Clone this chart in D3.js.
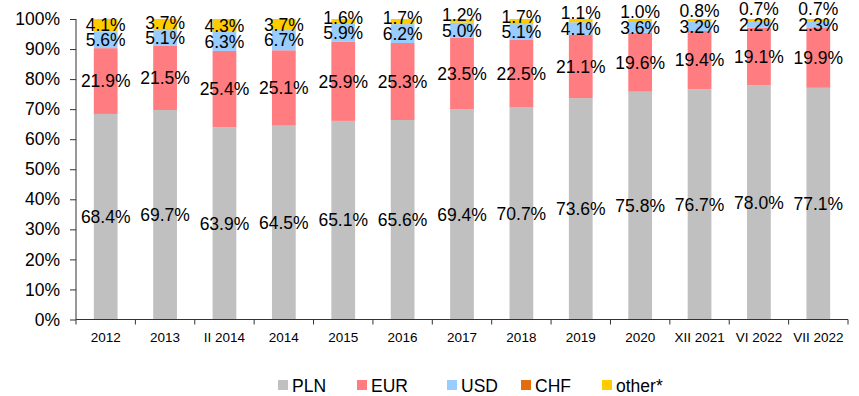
<!DOCTYPE html>
<html>
<head>
<meta charset="utf-8">
<script src="https://cdn.jsdelivr.net/npm/d3@7"></script>
<style>
  body { margin: 0; background: #fff; }
  text { font-family: "Liberation Sans", Arial, sans-serif; fill: #000; }
</style>
</head>
<body>
<svg id="chart" width="859" height="396"></svg>
<script>
// Currency structure of deposits, share of total (%)
const categories = ["2012", "2013", "II 2014", "2014", "2015", "2016", "2017", "2018", "2019", "2020", "XII 2021", "VI 2022", "VII 2022"];
const pln   = [68.4, 69.7, 63.9, 64.5, 65.1, 65.6, 69.4, 70.7, 73.6, 75.8, 76.7, 78.0, 77.1];
const eur   = [21.9, 21.5, 25.4, 25.1, 25.9, 25.3, 23.5, 22.5, 21.1, 19.6, 19.4, 19.1, 19.9];
const usd   = [5.6, 5.1, 6.3, 6.7, 5.9, 6.2, 5.0, 5.1, 4.1, 3.6, 3.2, 2.2, 2.3];
const chf   = [0, 0, 0, 0, 0, 0, 0, 0, 0, 0, 0, 0, 0];
const other = [4.1, 3.7, 4.3, 3.7, 1.6, 1.7, 1.2, 1.7, 1.1, 1.0, 0.8, 0.7, 0.7];
const seriesNames = ["PLN", "EUR", "USD", "CHF", "other*"];
const yTicks = [0, 10, 20, 30, 40, 50, 60, 70, 80, 90, 100];

const colors = {
  "PLN": "#C0C0C0",
  "EUR": "#FF7C80",
  "USD": "#99CCFF",
  "CHF": "#E46C0A",
  "other*": "#FFCC00"
};

const seriesValues = { "PLN": pln, "EUR": eur, "USD": usd, "CHF": chf, "other*": other };
const rows = categories.map((c, i) => {
  const r = { category: c };
  seriesNames.forEach(k => r[k] = seriesValues[k][i]);
  return r;
});

const svg = d3.select("#chart");
const plot = { left: 76, right: 848, top: 19, bottom: 319.5 };

const x = d3.scaleBand().domain(categories).range([plot.left, plot.right]);
const y = d3.scaleLinear().domain([0, 100]).range([plot.bottom, plot.top]);
const yFrac = d3.scaleLinear().domain([0, 1]).range([plot.bottom, plot.top]);

// 100% stacked layout
const stacked = d3.stack().keys(seriesNames).offset(d3.stackOffsetExpand)(rows);

const barW = x.bandwidth() * 0.4;
const barX = c => x(c) + (x.bandwidth() - barW) / 2;

const layers = svg.append("g").selectAll("g")
  .data(stacked)
  .join("g")
  .attr("fill", d => colors[d.key]);

layers.selectAll("rect")
  .data(d => d)
  .join("rect")
  .attr("x", d => barX(d.data.category))
  .attr("width", barW)
  .attr("y", d => yFrac(d[1]))
  .attr("height", d => Math.max(0, yFrac(d[0]) - yFrac(d[1])));

// Segment value labels, centred in each segment; labels that would collide
// with the one below are lifted so they stay readable.
const minGap = 15.5;
const labels = svg.append("g").attr("font-size", "17.5px").attr("text-anchor", "middle");
categories.forEach((c, i) => {
  let prevY = Infinity;
  stacked.forEach(layer => {
    const d = layer[i];
    const v = d.data[layer.key];
    if (!v) return;
    const cy = Math.min((yFrac(d[0]) + yFrac(d[1])) / 2, prevY - minGap);
    prevY = cy;
    labels.append("text")
      .attr("x", x(c) + x.bandwidth() / 2)
      .attr("y", cy)
      .attr("dy", "0.36em")
      .text(v.toFixed(1) + "%");
  });
});

// Y axis
const yAxis = d3.axisLeft(y).tickValues(yTicks).tickFormat(d => d + "%").tickSize(6).tickPadding(10);
const gy = svg.append("g").attr("transform", `translate(${plot.left},0)`).call(yAxis);
gy.select(".domain").attr("stroke", "#333").attr("d", `M0,${plot.top}V${plot.bottom}`);
gy.selectAll(".tick line").attr("stroke", "#333");
gy.selectAll(".tick text").attr("font-size", "17.5px").attr("font-family", null).attr("fill", "#000");

// X axis with ticks at category boundaries
const gx = svg.append("g").attr("transform", `translate(0,${plot.bottom})`);
gx.append("line").attr("x1", plot.left).attr("x2", plot.right).attr("stroke", "#333");
const bounds = categories.map(c => x(c)).concat([plot.right]);
gx.selectAll("line.tk").data(bounds).join("line").attr("class", "tk")
  .attr("x1", d => d).attr("x2", d => d).attr("y1", 0).attr("y2", 5).attr("stroke", "#333");
gx.selectAll("text").data(categories).join("text")
  .attr("x", d => x(d) + x.bandwidth() / 2)
  .attr("y", 22)
  .attr("text-anchor", "middle")
  .attr("font-size", "13.5px")
  .text(d => d);

// Legend
const legendX = [278, 357, 447, 521, 602];
const lg = svg.append("g");
seriesNames.forEach((k, i) => {
  lg.append("rect").attr("x", legendX[i]).attr("y", 380).attr("width", 10).attr("height", 10).attr("fill", colors[k]);
  lg.append("text").attr("x", legendX[i] + 14).attr("y", 391.5).attr("font-size", "17.5px").text(k);
});
</script>
</body>
</html>
